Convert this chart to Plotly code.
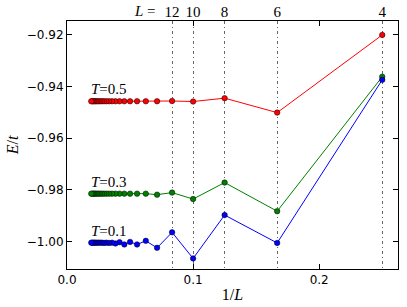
import plotly.graph_objects as go

L = [4, 6, 8, 10, 12, 14, 16, 18, 20, 22, 24, 26, 28, 30, 32, 34, 36, 38, 40, 42, 44, 46, 48, 50, 52]
E_T05 = [-0.9200, -0.9501, -0.9445, -0.9458, -0.9456, -0.9457, -0.9457, -0.9457, -0.9457, -0.9457,
         -0.9457, -0.9457, -0.9457, -0.9457, -0.9457, -0.9457, -0.9457, -0.9457, -0.9457, -0.9457,
         -0.9457, -0.9457, -0.9457, -0.9457, -0.9457]
E_T03 = [-0.9362, -0.9883, -0.9772, -0.9836, -0.9811, -0.9819, -0.9815, -0.9815, -0.9815, -0.9815,
         -0.9815, -0.9815, -0.9815, -0.9815, -0.9815, -0.9815, -0.9815, -0.9815, -0.9815, -0.9815,
         -0.9815, -0.9815, -0.9815, -0.9815, -0.9815]
E_T01 = [-0.9374, -1.0006, -0.9898, -1.0066, -0.9965, -1.0025, -0.9998, -1.0012, -1.0002, -1.0012,
         -1.0003, -1.0008, -1.0005, -1.0006, -1.0005, -1.0006, -1.0005, -1.0005, -1.0005, -1.0005,
         -1.0005, -1.0005, -1.0005, -1.0005, -1.0005]
series = [("T=0.5", E_T05, "#ff0000"), ("T=0.3", E_T03, "#008000"), ("T=0.1", E_T01, "#0000ff")]
top_L = [12, 10, 8, 6, 4]
x_ticks = [0.0, 0.1, 0.2]
y_ticks = [-0.92, -0.94, -0.96, -0.98, -1.00]

inv_L = [1.0 / l for l in L]

fig = go.Figure()
for name, vals, col in series:
    fig.add_trace(go.Scatter(
        x=inv_L, y=vals, mode="lines+markers", name=name,
        line=dict(color=col, width=1),
        marker=dict(color=col, size=5.5, line=dict(color="black", width=0.5)),
        showlegend=False,
    ))
    fig.add_annotation(x=inv_L[-1], y=vals[-1], text="<i>T</i>=" + name.split("=")[1],
                       xref="x", yref="y", showarrow=False, xanchor="left", yanchor="bottom",
                       xshift=-2, yshift=2,
                       font=dict(family="Liberation Serif", size=15, color="black"))

fig.add_trace(go.Scatter(x=[1.0 / l for l in top_L], y=[E_T05[0]] * len(top_L), xaxis="x2",
                         mode="markers", marker=dict(opacity=0), showlegend=False, hoverinfo="skip"))

xr = [0, 0.2625]
yr = [-1.0107, -0.9146]
fig.update_layout(
    width=407, height=307,
    margin=dict(l=67, r=9, t=21, b=38),
    paper_bgcolor="white", plot_bgcolor="white",
    font=dict(family="DejaVu Sans", size=12, color="black"),
    xaxis=dict(range=xr, tickvals=x_ticks, ticktext=["0.0", "0.1", "0.2"], automargin=False,
               showgrid=False, zeroline=False, showline=True, linecolor="black", linewidth=1,
               mirror="ticks", ticks="inside", ticklen=5, tickcolor="black",
               title=dict(text="1/<i>L</i>", font=dict(family="Liberation Serif", size=16), standoff=2)),
    yaxis=dict(range=yr, tickvals=y_ticks, automargin=False,
               ticktext=["\u22120.92", "\u22120.94", "\u22120.96", "\u22120.98", "\u22121.00"],
               showgrid=False, zeroline=False, showline=True, linecolor="black", linewidth=1,
               mirror="ticks", ticks="inside", ticklen=5, tickcolor="black",
               title=dict(text="<i>E</i>/<i>t</i>", font=dict(family="Liberation Serif", size=16), standoff=4)),
    xaxis2=dict(range=xr, overlaying="x", side="top", anchor="y", automargin=False,
                tickvals=[1.0 / l for l in top_L], ticktext=[str(l) for l in top_L],
                ticks="", showline=False, zeroline=False,
                showgrid=True, gridcolor="#666666", gridwidth=0.7, griddash="3px,3px,1px,3px",
                tickfont=dict(family="Liberation Serif", size=15), ticklabelstandoff=0),
)
fig.add_annotation(x=1.0 / top_L[0], y=1, xref="x", yref="paper", text="<i>L</i> =",
                   showarrow=False, xanchor="right", yanchor="bottom", xshift=-14, yshift=0,
                   font=dict(family="Liberation Serif", size=15, color="black"))

fig.write_html("out.html", config={"displayModeBar": False},
               post_script="document.body.style.margin='0';document.body.style.overflow='hidden';")
